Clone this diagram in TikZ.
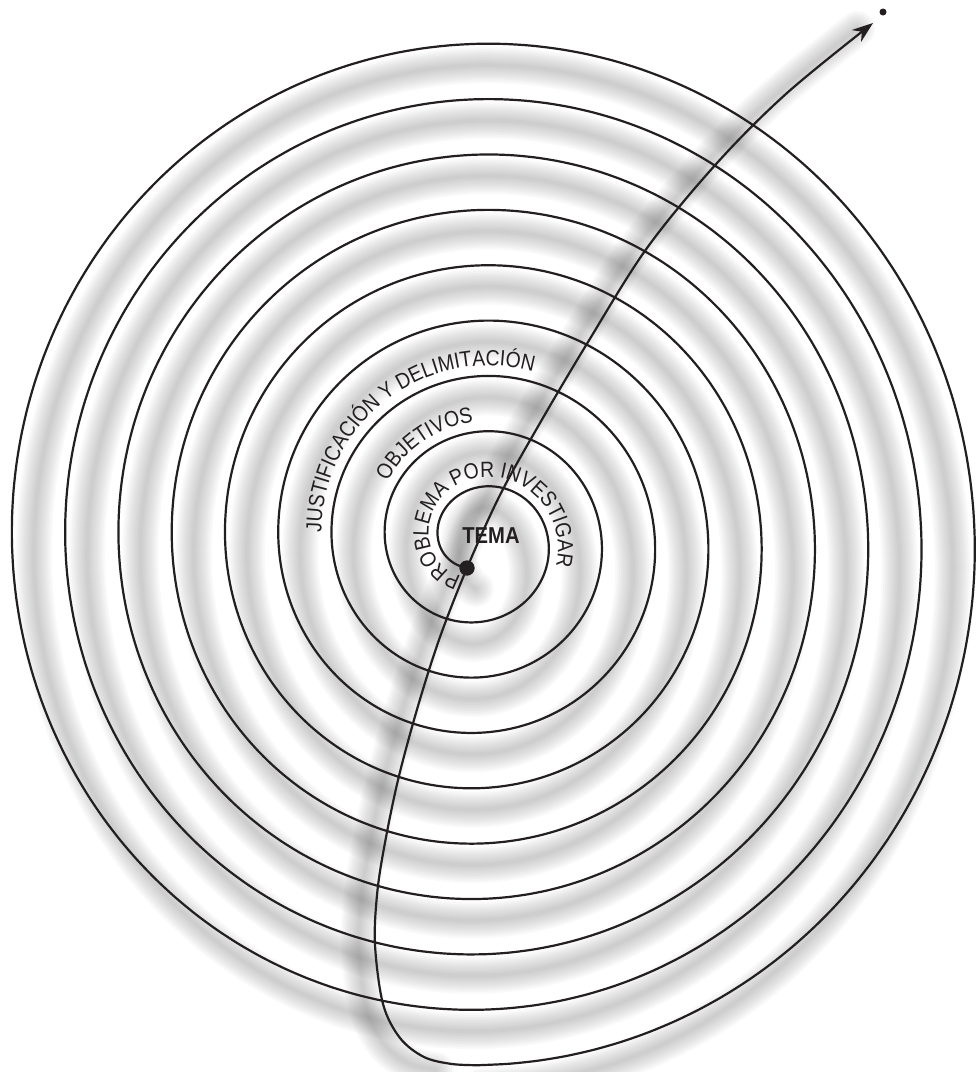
\documentclass[tikz,border=0pt]{standalone}
\usepackage{fontspec}
\setmainfont{Liberation Sans}
\newfontfamily\narrow[FakeStretch=0.88]{Liberation Sans}
\usetikzlibrary{arrows.meta,decorations.text}
\definecolor{ink}{RGB}{35,31,32}

\begin{document}
\begin{tikzpicture}[x=1pt, y=-1pt,
  declare function={
    rx(\x,\m)=41.7+53.3*((180-\x)/360+\m);
    ry(\x,\m)=39.8+55.4*((180-\x)/360+\m);
    sx(\x,\m)=480+rx(\x,\m)*cos(\x);
    sy(\x,\m)=540.6-ry(\x,\m)*sin(\x);},
  coil/.style={line width=2.2pt, draw=ink, line join=round},
  haze/.style={line width=#1, draw=black, opacity=0.022, line join=round, line cap=round},
  dot/.style={circle, fill=ink, inner sep=0pt, minimum size=#1},
  ringtext/.style={decorate, decoration={text along path, text align=center, text color=ink,
      text={|\narrow\fontsize{22}{22}\selectfont|#1}}}]
  \useasboundingbox (0,0) rectangle (979,1072);
  \node[dot=15pt] (start) at (467,568) {};
  \node[dot=7pt] (fin) at (883,12) {};
  \coordinate (tip) at (873,23);
  \foreach \w in {36,32,...,4} {
    \draw[haze=\w pt] plot[smooth, domain=245:-2970, samples=500]
      ({480+(rx(\x,0)-22)*cos(\x)},{562-ry(\x,0)*sin(\x)});
    \draw[haze=\w pt, transform canvas={shift={(-16pt,-6pt)}}] plot[smooth, tension=0.55]
      coordinates {(452,1064) (424,1057) (400,1038) (383,1004) (375,945) (377,895) (384,848)
        (398,780) (418,706) (440,637) (start.center) (500,495) (540,423) (588,342)
        (647,248) (717,163) (787,93) (tip)};
  }
  \draw[coil, -{Stealth[length=21pt, width=15pt]}]
    plot[smooth, domain=245:-2970, samples=1000] ({sx(\x,0)},{sy(\x,0)})
    -- plot[smooth, tension=0.55] coordinates {(480,1065.2) (452,1064) (424,1057) (400,1038)
      (383,1004) (375,945) (377,895) (384,848) (398,780) (418,706) (440,637) (start.center)
      (500,495) (540,423) (588,342) (647,248) (717,163) (787,93) (tip)};
  \node[dot=15pt] at (start) {};
  \node[font=\narrow\bfseries\fontsize{23}{23}\selectfont, text=ink] (tema) at (491,536) {TEMA};
  \path[ringtext=PROBLEMA POR INVESTIGAR] plot[domain=242:-18, samples=105] ({sx(\x,0.17)},{sy(\x,0.17)});
  \path[ringtext=OBJETIVOS] plot[domain=261:1, samples=105] ({sx(\x,1.18)},{sy(\x,1.18)});
  \path[ringtext=JUSTIFICACIÓN Y DELIMITACIÓN] plot[domain=261:1, samples=105] ({sx(\x,2.19)},{sy(\x,2.19)});
\end{tikzpicture}
\end{document}
